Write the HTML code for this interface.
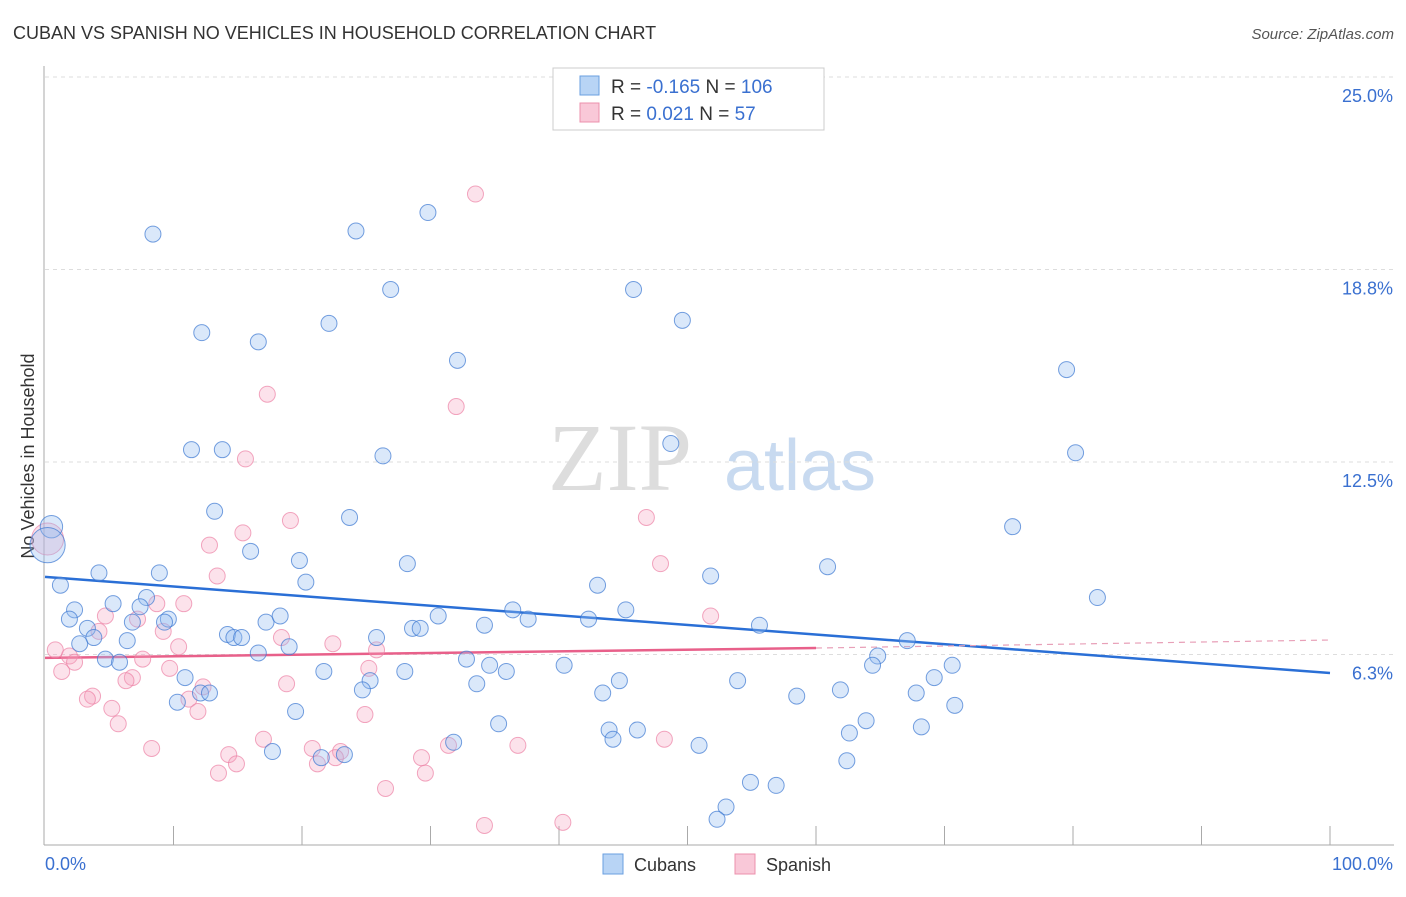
<!DOCTYPE html>
<html><head><meta charset="utf-8"><style>
body{margin:0;background:#fff;width:1406px;height:892px;overflow:hidden;font-family:"Liberation Sans",sans-serif}
</style></head><body>
<svg id="chart" width="1406" height="892" xmlns="http://www.w3.org/2000/svg" font-family="Liberation Sans, sans-serif">
<text x="13" y="39" font-size="18" fill="#333">CUBAN VS SPANISH NO VEHICLES IN HOUSEHOLD CORRELATION CHART</text>
<text x="1394" y="39" font-size="15" fill="#555" text-anchor="end" font-style="italic">Source: ZipAtlas.com</text>
<text transform="translate(34,456) rotate(-90)" font-size="18" fill="#333" text-anchor="middle">No Vehicles in Household</text>
<g><text x="620" y="490" font-size="96" font-family="Liberation Serif, serif" fill="#ddd" text-anchor="middle">ZIP</text><text x="800" y="490" font-size="72" fill="#c8daf0" text-anchor="middle">atlas</text></g>
<g id="grid"></g><g id="axes"></g><g id="trends"></g><g id="pts"></g>
<g>
<rect x="553" y="68" width="271" height="62" fill="#fff" stroke="#ccc"/>
<rect x="580" y="76" width="19" height="19" fill="#b8d4f5" stroke="#6a9fe0"/>
<rect x="580" y="103" width="19" height="19" fill="#f9c8d8" stroke="#ec90ac"/>
<text x="611" y="93" font-size="19" fill="#333">R = <tspan fill="#3a70d0">-0.165</tspan>   N = <tspan fill="#3a70d0">106</tspan></text>
<text x="611" y="120" font-size="19" fill="#333">R =   <tspan fill="#3a70d0">0.021</tspan>   N =   <tspan fill="#3a70d0">57</tspan></text>
</g>
<g>
<rect x="603" y="854" width="20" height="20" fill="#b8d4f5" stroke="#6a9fe0"/><text x="634" y="871" font-size="18" fill="#333">Cubans</text>
<rect x="735" y="854" width="20" height="20" fill="#f9c8d8" stroke="#ec90ac"/><text x="766" y="871" font-size="18" fill="#333">Spanish</text>
</g>
</svg>
<script>
const yTicks=[6.3,12.5,18.8,25.0];
const yTickVals=[6.25,12.5,18.75,25];
const cubanX=[8.4,12.2,16.6,22.1,24.2,29.8,26.9,32.1,45.8,49.6,79.5,80.2,11.4,13.8,26.3,48.7,13.2,23.7,75.3,16.0,19.8,28.2,20.3,4.2,8.9,1.2,43.0,51.8,60.9,81.9,2.3,5.3,7.9,7.4,1.9,3.3,3.8,2.7,6.4,6.8,9.6,9.3,17.2,18.3,14.2,14.7,15.3,16.6,19.0,25.8,28.6,29.2,30.6,34.2,36.4,37.6,42.3,45.2,55.6,67.1,4.7,5.8,10.9,12.1,12.8,10.3,21.7,25.3,24.7,28.0,32.8,34.6,35.9,33.6,40.4,43.4,44.7,53.9,58.5,61.9,64.8,64.4,70.6,69.2,67.8,70.8,19.5,35.3,43.9,44.2,46.1,63.9,62.6,68.2,31.8,50.9,17.7,21.5,23.3,62.4,54.9,56.9,53.0,52.3,0.5,0.2];
const cubanY=[19.9,16.7,16.4,17.0,20.0,20.6,18.1,15.8,18.1,17.1,15.5,12.8,12.9,12.9,12.7,13.1,10.9,10.7,10.4,9.6,9.3,9.2,8.6,8.9,8.9,8.5,8.5,8.8,9.1,8.1,7.7,7.9,8.1,7.8,7.4,7.1,6.8,6.6,6.7,7.3,7.4,7.3,7.3,7.5,6.9,6.8,6.8,6.3,6.5,6.8,7.1,7.1,7.5,7.2,7.7,7.4,7.4,7.7,7.2,6.7,6.1,6.0,5.5,5.0,5.0,4.7,5.7,5.4,5.1,5.7,6.1,5.9,5.7,5.3,5.9,5.0,5.4,5.4,4.9,5.1,6.2,5.9,5.9,5.5,5.0,4.6,4.4,4.0,3.8,3.5,3.8,4.1,3.7,3.9,3.4,3.3,3.1,2.9,3.0,2.8,2.1,2.0,1.3,0.9,10.4,9.8];
const cubanSize=[1,1,1,1,1,1,1,1,1,1,1,1,1,1,1,1,1,1,1,1,1,1,1,1,1,1,1,1,1,1,1,1,1,1,1,1,1,1,1,1,1,1,1,1,1,1,1,1,1,1,1,1,1,1,1,1,1,1,1,1,1,1,1,1,1,1,1,1,1,1,1,1,1,1,1,1,1,1,1,1,1,1,1,1,1,1,1,1,1,1,1,1,1,1,1,1,1,1,1,1,1,1,1,1,1.4,2.2];
const spanishX=[33.5,17.3,32.0,15.6,46.8,19.1,15.4,12.8,47.9,13.4,10.8,8.7,4.7,7.2,4.2,9.2,10.4,18.4,22.4,25.8,51.8,0.8,1.9,2.3,1.3,7.6,9.7,6.8,6.3,25.2,3.7,3.3,12.3,18.8,11.2,11.9,5.2,5.7,24.9,8.3,17.0,14.3,13.5,14.9,20.8,21.2,23.0,22.6,31.4,36.8,48.2,29.6,29.3,26.5,34.2,40.3,0.2];
const spanishY=[21.2,14.7,14.3,12.6,10.7,10.6,10.2,9.8,9.2,8.8,7.9,7.9,7.5,7.4,7.0,7.0,6.5,6.8,6.6,6.4,7.5,6.4,6.2,6.0,5.7,6.1,5.8,5.5,5.4,5.8,4.9,4.8,5.2,5.3,4.8,4.4,4.5,4.0,4.3,3.2,3.5,3.0,2.4,2.7,3.2,2.7,3.1,2.9,3.3,3.3,3.5,2.4,2.9,1.9,0.7,0.8,10.0];
const spanishSize=[1,1,1,1,1,1,1,1,1,1,1,1,1,1,1,1,1,1,1,1,1,1,1,1,1,1,1,1,1,1,1,1,1,1,1,1,1,1,1,1,1,1,1,1,1,1,1,1,1,1,1,1,1,1,1,1,2.0];
const cubanTrend=[8.77,5.65];
const spanishTrend=[6.14,6.46,6.72];
const spanishTrendX=[0,60,100];
const NS="http://www.w3.org/2000/svg";
const X0=45,X1=1330,YB=847,PX=30.8;
function sx(v){return X0+(X1-X0)*v/100;}
function sy(v){return YB-v*PX;}
function mk(t,a,p){const e=document.createElementNS(NS,t);for(const k in a)e.setAttribute(k,a[k]);document.getElementById(p).appendChild(e);return e;}
yTickVals.forEach((v,i)=>{
 const l=mk('line',{x1:45,x2:1394,y1:sy(v),y2:sy(v),stroke:'#ddd','stroke-dasharray':'4,4'},'grid');
 
 
 const t=mk('text',{x:1393,y:sy(v)+25,'font-size':18,fill:'#3a70d0','text-anchor':'end'},'grid');
 
 
 t.textContent=yTicks[i].toFixed(1)+'%';
});
let ax=mk('line',{x1:44,x2:44,y1:66,y2:845,stroke:'#aaa'},'axes');


ax=mk('line',{x1:44,x2:1394,y1:845,y2:845,stroke:'#aaa'},'axes');


for(let i=1;i<=10;i++){const tk=mk('line',{x1:sx(i*10),x2:sx(i*10),y1:826,y2:845,stroke:'#aaa'},'axes');
 
 }
let xt=mk('text',{x:45,y:870,'font-size':18,fill:'#3a70d0'},'axes');xt.textContent='0.0%';


xt=mk('text',{x:1393,y:870,'font-size':18,fill:'#3a70d0','text-anchor':'end'},'axes');xt.textContent='100.0%';


spanishX.forEach((x,i)=>{const c=mk('circle',{cx:sx(x),cy:sy(spanishY[i]),r:8*spanishSize[i],fill:'rgba(244,160,188,0.3)',stroke:'rgba(236,130,165,0.7)','stroke-width':1},'pts');
 
 });
cubanX.forEach((x,i)=>{const c=mk('circle',{cx:sx(x),cy:sy(cubanY[i]),r:8*cubanSize[i],fill:'rgba(150,190,240,0.35)',stroke:'rgba(60,120,210,0.7)','stroke-width':1},'pts');
 
 });
let tl=mk('line',{x1:sx(0),y1:sy(cubanTrend[0]),x2:sx(100),y2:sy(cubanTrend[1]),stroke:'#2a6fd6','stroke-width':2.5},'trends');


tl=mk('line',{x1:sx(spanishTrendX[0]),y1:sy(spanishTrend[0]),x2:sx(spanishTrendX[1]),y2:sy(spanishTrend[1]),stroke:'#e8608a','stroke-width':2.5},'trends');


tl=mk('line',{x1:sx(spanishTrendX[1]),y1:sy(spanishTrend[1]),x2:sx(spanishTrendX[2]),y2:sy(spanishTrend[2]),stroke:'#e8a0b8','stroke-width':1.2,'stroke-dasharray':'6,5'},'trends');


</script>
</body></html>
